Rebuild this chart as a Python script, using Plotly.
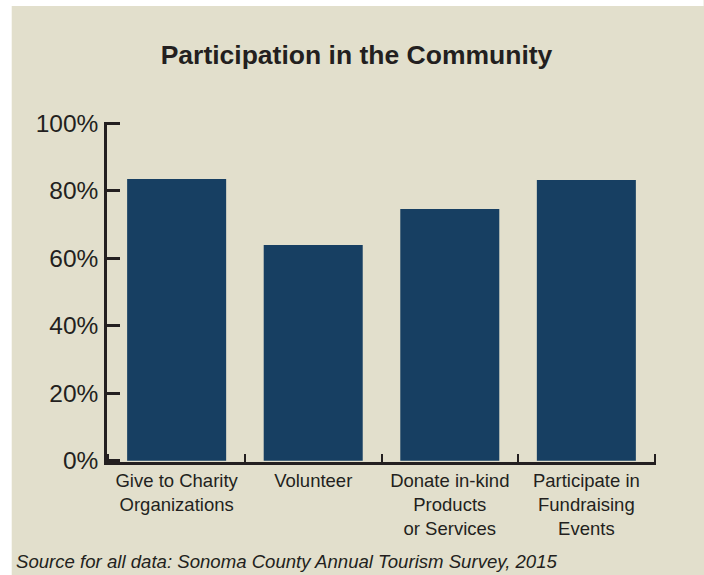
import plotly.graph_objects as go

# Survey results
categories = [
    "Give to Charity<br>Organizations",
    "Volunteer",
    "Donate in-kind<br>Products<br>or Services",
    "Participate in<br>Fundraising<br>Events",
]
values = [83.5, 63.9, 74.6, 83.2]
y_ticks = [0, 20, 40, 60, 80, 100]
y_tick_labels = ["0%", "20%", "40%", "60%", "80%", "100%"]

W, H = 704, 575
BG = "#e2dfcc"
BAR = "#173f62"
INK = "#231f20"
FONT = "Liberation Sans, Arial, sans-serif"

# Axis ranges are padded a hair so the end ticks (0%, 100% and the last
# category boundary) are not clipped away by plotly.
X_RANGE = [-0.51, 3.51]
Y_RANGE = [-0.4, 100.4]

# plot area in pixels
left, right, top, bottom = 107.3, 47.6, 122.0, 113.0
PW = W - left - right
PH = H - top - bottom


def px_x(x):
    """Horizontal pixel position -> plot-area paper fraction."""
    return (x - left) / PW


def px_y(y):
    """Vertical pixel position (from top) -> plot-area paper fraction."""
    return (H - bottom - y) / PH


fig = go.Figure(
    go.Bar(
        x=categories,
        y=values,
        marker=dict(color=BAR, line=dict(width=0)),
        width=0.725,
        hoverinfo="skip",
    )
)

fig.update_layout(
    width=W,
    height=H,
    margin=dict(l=left, r=right, t=top, b=bottom, pad=0),
    paper_bgcolor=BG,
    plot_bgcolor="rgba(0,0,0,0)",
    showlegend=False,
    font=dict(family=FONT, color=INK),
    title=dict(
        text="<b>Participation in the Community</b>",
        font=dict(family=FONT, size=26.5, color=INK),
        x=356.5 / W,
        xanchor="center",
        xref="container",
        yref="container",
        y=1 - 55 / H,
        yanchor="middle",
    ),
    xaxis=dict(
        range=X_RANGE,
        showgrid=False,
        zeroline=False,
        showline=True,
        linecolor=INK,
        linewidth=2.7,
        ticks="inside",
        tickson="boundaries",
        ticklen=8,
        tickwidth=2,
        tickcolor=INK,
        tickfont=dict(family=FONT, size=18.5, color=INK),
        ticklabelstandoff=0,
        fixedrange=True,
        layer="above traces",
    ),
    yaxis=dict(
        range=Y_RANGE,
        tickmode="array",
        tickvals=y_ticks,
        ticktext=y_tick_labels,
        showgrid=False,
        zeroline=False,
        showline=True,
        linecolor=INK,
        linewidth=2.5,
        ticks="inside",
        ticklen=13,
        tickwidth=2.5,
        tickcolor=INK,
        tickfont=dict(family=FONT, size=24.5, color=INK),
        ticklabelstandoff=1,
        fixedrange=True,
        layer="above traces",
    ),
    shapes=[
        # white frame strips on the left and top edges
        dict(type="rect", xref="paper", yref="paper",
             x0=px_x(0), x1=px_x(12), y0=px_y(H), y1=px_y(0),
             fillcolor="white", line=dict(width=0), layer="below"),
        dict(type="rect", xref="paper", yref="paper",
             x0=px_x(0), x1=px_x(W), y0=px_y(6), y1=px_y(0),
             fillcolor="white", line=dict(width=0), layer="below"),
    ],
    annotations=[
        dict(
            text="<i>Source for all data: Sonoma County Annual Tourism Survey, 2015</i>",
            xref="paper", yref="paper",
            x=px_x(14), y=px_y(574),
            xanchor="left", yanchor="bottom",
            showarrow=False,
            font=dict(family=FONT, size=18.6, color=INK),
        )
    ],
)

fig.write_html("out.html")
